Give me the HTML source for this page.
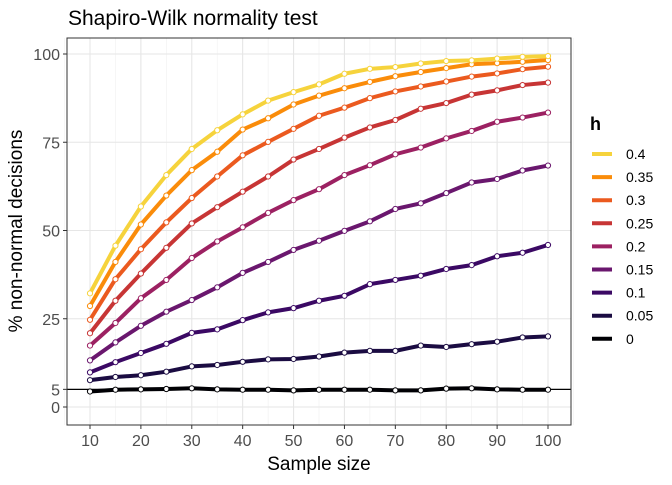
<!DOCTYPE html>
<html><head><meta charset="utf-8"><style>
body{margin:0;background:#fff}
svg text{font-family:"Liberation Sans",sans-serif}
</style></head><body>
<svg id="chart" width="672" height="480" xmlns="http://www.w3.org/2000/svg">
<text x="68" y="25" font-size="21" fill="#000">Shapiro-Wilk normality test</text>
<g id="grid"></g>
<g id="series"></g>
<rect x="67" y="38" width="504" height="387" fill="none" stroke="#333" stroke-width="1"/>
<g id="axes"></g>
<text x="319" y="470" font-size="19" text-anchor="middle">Sample size</text>
<text transform="translate(22,231) rotate(-90)" font-size="19" text-anchor="middle">% non-normal decisions</text>
<g id="legend"></g>
</svg>
<script>
const sampleSizes=[10,15,20,25,30,35,40,45,50,55,60,65,70,75,80,85,90,95,100];
const hLevels=["0","0.05","0.1","0.15","0.2","0.25","0.3","0.35","0.4"];
const s0=[4.4,4.9,5.0,5.1,5.3,5.0,4.9,4.9,4.7,4.9,4.9,4.9,4.7,4.7,5.2,5.3,5.0,4.9,4.9];
const s05=[7.6,8.5,9.0,10.0,11.5,11.9,12.8,13.5,13.6,14.3,15.4,15.9,15.9,17.4,17.0,17.8,18.5,19.7,20.0];
const s10=[9.8,12.7,15.3,17.9,21.0,22.0,24.6,26.8,28.0,30.1,31.5,34.8,36.0,37.2,39.1,40.2,42.7,43.7,45.9];
const s15=[13.2,18.3,23.0,27.0,30.3,33.9,38.0,41.1,44.5,47.1,49.9,52.6,56.1,57.7,60.6,63.6,64.6,67.0,68.4];
const s20=[17.4,23.8,30.8,36.0,42.2,46.9,50.9,55.0,58.6,61.7,65.7,68.5,71.6,73.5,76.1,78.2,80.8,82.0,83.4];
const s25=[20.9,30.1,37.8,45.1,52.0,56.6,61.0,65.3,70.1,73.1,76.3,79.2,81.3,84.5,86.1,88.5,89.7,91.2,91.9];
const s30=[24.7,36.2,44.7,52.3,59.2,65.3,71.3,75.1,78.8,82.5,84.8,87.5,89.4,90.8,92.2,93.6,94.5,95.7,96.4];
const s35=[28.6,41.1,51.7,59.9,67.1,72.3,78.6,81.8,85.7,88.2,90.3,92.1,93.7,94.9,96.0,97.1,97.4,97.8,98.3];
const s40=[32.2,45.7,56.8,65.7,73.1,78.4,82.9,86.8,89.2,91.4,94.4,95.8,96.3,97.3,98.0,98.2,98.7,99.2,99.4];
const xTicks=[10,20,30,40,50,60,70,80,90,100];
const yTicks=[0,5,25,50,75,100];
const allSeries=[s0,s05,s10,s15,s20,s25,s30,s35,s40];
const colors=["#000004","#1B0C42","#3B0964","#6A176E","#9C2162","#C73535","#EB5A1F","#FA8C0A","#F6D33C"];
const NS="http://www.w3.org/2000/svg";
const X=v=>90+(v-10)*(458/90);
const Y=v=>407-v*3.53;
function mk(tag,attrs,parent){const e=document.createElementNS(NS,tag);for(const k in attrs)e.setAttribute(k,attrs[k]);parent.appendChild(e);return e;}
const grid=document.getElementById('grid'),axes=document.getElementById('axes'),ser=document.getElementById('series'),leg=document.getElementById('legend');
mk('rect',{x:67,y:38,width:504,height:387,fill:'#fff'},grid);
for(let v=5;v<=105;v+=10){const g=mk('line',{x1:X(v),x2:X(v),y1:38,y2:425,stroke:'#f0f0f0','stroke-width':0.6},grid);

}
xTicks.forEach(v=>{const g=mk('line',{x1:X(v),x2:X(v),y1:38,y2:425,stroke:'#e6e6e6','stroke-width':1.1},grid);


const t=mk('line',{x1:X(v),x2:X(v),y1:425,y2:429,stroke:'#333','stroke-width':1},axes);


const l=mk('text',{x:X(v),y:446,'font-size':16,fill:'#4d4d4d','text-anchor':'middle'},axes);l.textContent=v;

});
yTicks.forEach(v=>{const g=mk('line',{x1:67,x2:571,y1:Y(v),y2:Y(v),stroke:v===5?'#000':'#e6e6e6','stroke-width':v===5?1.2:1.1},v===5?ser:grid);


const t=mk('line',{x1:63,x2:67,y1:Y(v),y2:Y(v),stroke:'#333','stroke-width':1},axes);


const l=mk('text',{x:60,y:Y(v)+6,'font-size':16,fill:'#4d4d4d','text-anchor':'end'},axes);l.textContent=v;

});
allSeries.forEach((s,i)=>{const g=mk('g',{},ser);


const p=mk('polyline',{points:s.map((v,j)=>X(sampleSizes[j])+','+Y(v)).join(' '),fill:'none',stroke:colors[i],'stroke-width':4,'stroke-linejoin':'round'},g);


s.forEach((v,j)=>{const c=mk('circle',{cx:X(sampleSizes[j]),cy:Y(v),r:2.6,fill:'#fff',stroke:colors[i],'stroke-width':1},g);

});});
const lt=mk('text',{x:590,y:130,'font-size':18,'font-weight':'bold'},leg);lt.textContent='h';


for(let k=0;k<9;k++){const i=8-k;const y=154+k*23.1;
const g=mk('g',{},leg);


mk('line',{x1:592,x2:612,y1:y,y2:y,stroke:colors[i],'stroke-width':4},g);
const t=mk('text',{x:626,y:y+5,'font-size':14,fill:'#000'},g);t.textContent=hLevels[i];}
</script>
</body></html>
